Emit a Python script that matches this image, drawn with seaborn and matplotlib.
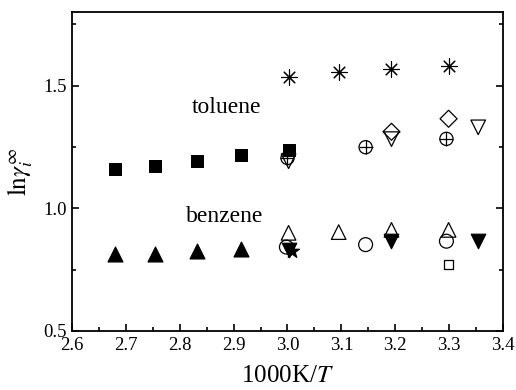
import matplotlib
matplotlib.use('Agg')
import matplotlib.pyplot as plt
import seaborn as sns
from matplotlib.ticker import MultipleLocator, FormatStrFormatter

sns.set_style('ticks')
plt.rcParams['font.family'] = ['Liberation Serif', 'DejaVu Serif']
plt.rcParams['mathtext.fontset'] = 'stix'
plt.rcParams['text.color'] = 'black'
plt.rcParams['axes.labelcolor'] = 'black'
plt.rcParams['xtick.color'] = 'black'
plt.rcParams['ytick.color'] = 'black'
plt.rcParams['axes.edgecolor'] = 'black'

# toluene data sets
tol_sq_x = [2.680, 2.754, 2.832, 2.914, 3.002]
tol_sq_y = [1.162, 1.171, 1.191, 1.217, 1.238]
tol_ast_x = [3.002, 3.095, 3.193, 3.299]
tol_ast_y = [1.537, 1.554, 1.568, 1.581]
tol_oplus_x = [3.000, 3.145, 3.295]
tol_oplus_y = [1.205, 1.249, 1.283]
tol_dia_x = [3.193, 3.299]
tol_dia_y = [1.312, 1.365]
tol_dtri_x = [3.002, 3.193, 3.354]
tol_dtri_y = [1.192, 1.282, 1.330]

# benzene data sets
ben_tri_x = [2.680, 2.754, 2.832, 2.914]
ben_tri_y = [0.812, 0.815, 0.826, 0.834]
ben_otri_x = [3.002, 3.095, 3.193, 3.299]
ben_otri_y = [0.900, 0.903, 0.912, 0.912]
ben_circ_x = [2.998, 3.145, 3.295]
ben_circ_y = [0.842, 0.852, 0.866]
ben_fdtri_x = [3.002, 3.193, 3.354]
ben_fdtri_y = [0.830, 0.866, 0.866]
ben_star_x = [3.008]
ben_star_y = [0.828]
ben_osq_x = [3.299]
ben_osq_y = [0.770]

fig = plt.figure(figsize=(5.16, 3.9), dpi=100)
ax = fig.add_axes([0.1395, 0.1513, 0.8353, 0.8179])

sns.scatterplot(x=tol_sq_x, y=tol_sq_y, marker='s', s=80, color='black', edgecolor='black', ax=ax)
sns.scatterplot(x=ben_tri_x, y=ben_tri_y, marker='^', s=115, color='black', edgecolor='black', ax=ax)
sns.scatterplot(x=tol_ast_x, y=tol_ast_y, marker=(8, 2, 0), s=120, color='black', linewidth=0.8, ax=ax)
sns.scatterplot(x=tol_oplus_x, y=tol_oplus_y, marker='o', s=90, facecolor='none', edgecolor='black', linewidth=0.9, ax=ax)
sns.scatterplot(x=tol_oplus_x, y=tol_oplus_y, marker='+', s=90, color='black', linewidth=0.9, ax=ax)
sns.scatterplot(x=tol_dia_x, y=tol_dia_y, marker='D', s=75, facecolor='none', edgecolor='black', linewidth=0.9, ax=ax)
sns.scatterplot(x=tol_dtri_x, y=tol_dtri_y, marker='v', s=110, facecolor='none', edgecolor='black', linewidth=0.9, ax=ax)
sns.scatterplot(x=ben_otri_x, y=ben_otri_y, marker='^', s=110, facecolor='none', edgecolor='black', linewidth=0.9, ax=ax)
sns.scatterplot(x=ben_circ_x, y=ben_circ_y, marker='o', s=100, facecolor='none', edgecolor='black', linewidth=0.9, ax=ax)
sns.scatterplot(x=ben_fdtri_x, y=ben_fdtri_y, marker='v', s=110, color='black', edgecolor='black', ax=ax)
sns.scatterplot(x=ben_star_x, y=ben_star_y, marker='*', s=110, color='black', edgecolor='black', ax=ax)
sns.scatterplot(x=ben_osq_x, y=ben_osq_y, marker='s', s=40, facecolor='none', edgecolor='black', linewidth=0.9, ax=ax)

ax.text(2.887, 1.412, 'toluene', fontsize=17, ha='center', va='center')
ax.text(2.884, 0.965, 'benzene', fontsize=17, ha='center', va='center')

ax.set_xlim(2.6, 3.4)
ax.set_ylim(0.5, 1.8)
ax.xaxis.set_major_locator(MultipleLocator(0.1))
ax.xaxis.set_minor_locator(MultipleLocator(0.05))
ax.yaxis.set_major_locator(MultipleLocator(0.5))
ax.yaxis.set_minor_locator(MultipleLocator(0.25))
ax.tick_params(which='both', direction='in', right=True, top=False, width=1.2, labelsize=13.5, pad=4)
ax.tick_params(which='major', length=5)
ax.tick_params(which='minor', length=3)
ax.xaxis.set_major_formatter(FormatStrFormatter('%.1f'))
ax.yaxis.set_major_formatter(FormatStrFormatter('%.1f'))
for sp in ax.spines.values():
    sp.set_linewidth(1.3)
    sp.set_visible(True)

ax.set_xlabel('1000K/$T$', fontsize=18, labelpad=8)
ax.set_ylabel(r'$\mathrm{ln}\gamma_i^{\infty}$', fontsize=18, labelpad=6)

fig.savefig('out.png', dpi=100)
